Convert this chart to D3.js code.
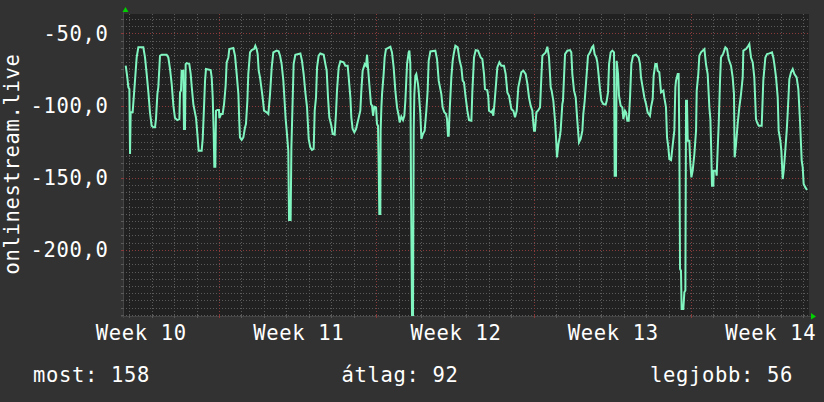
<!DOCTYPE html>
<html><head><meta charset="utf-8">
<script src="https://cdn.jsdelivr.net/npm/d3@7"></script>
<style>
html,body{margin:0;padding:0;background:#323232;}
svg{display:block;}
text{font-family:"DejaVu Sans Mono",monospace;fill:#ffffff;letter-spacing:0.66px;}
</style></head><body>
<svg id="chart" width="824" height="402"></svg>
<script>
// ---- data ----
const windowStart = "2024-03-06T17:30:00Z";
const windowHours = 732.5;
const yDomain = [-245.8, -36.6];
const yTickValues = [-50, -100, -150, -200];
const yTitle = "onlinestream.live";
const legendLabels = ["most", "átlag", "legjobb"];
const legendValues = [158, 92, 56];
// [hours since windowStart, value]
const samplesPart1 = [[2.9,-72.4],[4.6,-80.5],[5.7,-87.4],[6.8,-88.6],[7.5,-133.6],[8.2,-104.7],[10.3,-104.7],[12.8,-82.8],[14.6,-66.7],[16.4,-59.7],[21.7,-59.7],[23.5,-66.7],[25.3,-78.2],[27.1,-90.9],[28.8,-104.7],[30.6,-114.0],[32.4,-115.1],[34.2,-115.1],[35.2,-109.4],[36.7,-92.1],[37.7,-87.4],[39.5,-65.5],[41.3,-64.8],[46.6,-64.8],[48.4,-66.7],[50.2,-74.7],[52.0,-85.1],[53.8,-100.1],[55.5,-108.7],[58.0,-110.1],[60.2,-109.4],[60.9,-90.9],[61.9,-89.7],[62.6,-75.9],[64.4,-75.9],[65.1,-116.3],[66.2,-116.3],[66.9,-71.3],[68.0,-70.6],[70.8,-71.3],[72.3,-78.2],[73.3,-86.3],[75.1,-99.0],[78.0,-108.7],[79.4,-119.7],[80.8,-131.3],[84.0,-131.3],[85.1,-123.2],[86.5,-101.3],[87.6,-82.8],[88.6,-74.7],[93.6,-75.4],[94.7,-80.5],[95.8,-94.4],[96.8,-117.4],[97.5,-142.4],[98.6,-142.4],[99.3,-103.6],[100.7,-103.1],[102.5,-103.1],[102.9,-108.7],[104.7,-105.9],[106.4,-105.9],[107.9,-99.0],[109.6,-86.3],[110.7,-70.1],[112.5,-66.7],[113.5,-60.9],[117.8,-60.2],[119.6,-65.5],[121.4,-78.2],[123.2,-92.1],[124.2,-111.7],[124.9,-122.1],[126.7,-123.9],[128.5,-122.1],[130.3,-115.1],[131.3,-112.8],[132.8,-96.7],[133.8,-78.2],[135.6,-63.2],[137.4,-61.6],[139.9,-60.9],[141.3,-58.6],[142.7,-60.9],[143.8,-64.4],[144.9,-75.9],[146.3,-80.5],[147.7,-87.4],[149.1,-94.4],[150.6,-103.6],[153.4,-104.7],[155.2,-105.9],[157.0,-92.1],[158.8,-73.6],[160.5,-63.2],[164.1,-62.0],[166.2,-62.5],[167.7,-65.5],[169.4,-71.3],[171.2,-82.8],[172.3,-94.4],[173.7,-109.4],[174.8,-117.4],[176.5,-131.3],[177.3,-179.3],[179.0,-179.3],[179.8,-129.0]];
const samplesPart2 = [[182.2,-71.3],[184.0,-64.8],[189.4,-63.9],[191.1,-69.0],[192.9,-78.2],[194.7,-90.9],[196.5,-101.3],[198.3,-123.2],[200.0,-129.0],[201.8,-130.8],[203.6,-130.1],[204.7,-103.6],[206.1,-94.4],[207.2,-73.6],[208.9,-65.5],[210.7,-63.9],[214.3,-64.8],[216.1,-71.3],[217.5,-75.9],[218.9,-94.4],[220.3,-108.2],[222.5,-114.0],[223.9,-119.7],[226.0,-120.2],[227.4,-105.9],[228.5,-89.7],[230.3,-73.6],[232.1,-69.4],[235.6,-70.1],[237.4,-72.4],[239.9,-72.4],[241.0,-80.5],[242.8,-94.4],[243.8,-108.2],[245.2,-116.3],[247.0,-118.6],[248.8,-116.3],[250.9,-110.5],[253.4,-103.6],[254.5,-89.7],[255.9,-75.9],[258.1,-71.3],[259.5,-72.4],[260.6,-64.8],[261.6,-73.6],[263.0,-85.1],[264.8,-99.0],[265.9,-100.1],[267.0,-107.1],[268.4,-100.8],[270.2,-101.3],[271.2,-112.8],[272.3,-114.0],[273.0,-140.5],[273.7,-175.1],[274.8,-175.1],[275.1,-117.4],[275.9,-101.3],[276.6,-92.1],[278.3,-78.2],[279.4,-66.7],[280.8,-60.9],[285.5,-59.3],[287.2,-63.2],[289.0,-73.6],[290.8,-89.7],[292.6,-101.3],[294.4,-107.1],[295.4,-111.7],[297.2,-107.7],[299.0,-110.1],[300.4,-107.1],[301.5,-96.7],[303.3,-71.3],[305.0,-63.2],[305.8,-62.0],[306.8,-71.3],[307.5,-152.1],[308.6,-245.5],[309.7,-245.5],[310.4,-117.4],[311.1,-92.1],[312.2,-79.4],[313.2,-78.2],[315.0,-85.1],[315.7,-89.7],[317.5,-105.9],[318.6,-123.2],[320.3,-119.7],[322.1,-117.4],[323.9,-103.6],[325.3,-89.7],[326.4,-69.0],[328.2,-62.5],[333.5,-62.0],[335.3,-67.8],[337.1,-82.8],[339.9,-92.1],[341.3,-101.3],[343.1,-104.7],[344.9,-105.9],[346.0,-109.4],[347.0,-120.9],[347.8,-120.9],[348.8,-103.6],[350.6,-80.5],[352.0,-69.0],[353.1,-64.4],[354.9,-58.6],[357.4,-59.7],[359.5,-69.0],[361.3,-73.6],[362.7,-82.8]];
const samplesPart3 = [[364.1,-84.0],[365.9,-94.4],[367.7,-103.6],[369.5,-110.1],[372.0,-110.5],[373.0,-90.9],[374.8,-66.7],[376.6,-61.6],[379.1,-62.0],[381.9,-66.7],[383.7,-67.8],[385.5,-78.2],[386.5,-88.6],[389.0,-89.3],[390.1,-94.4],[390.8,-103.6],[393.3,-104.7],[394.4,-103.6],[395.4,-107.1],[396.9,-96.7],[398.6,-82.8],[399.7,-73.6],[401.9,-70.1],[404.0,-72.4],[406.8,-72.4],[408.6,-78.2],[410.4,-90.9],[412.2,-93.2],[414.7,-102.4],[416.8,-103.6],[418.6,-108.2],[420.4,-103.6],[422.1,-87.4],[423.9,-81.7],[425.3,-77.0],[427.5,-75.9],[430.0,-78.2],[431.8,-85.1],[433.5,-94.4],[435.3,-100.1],[437.1,-103.6],[438.2,-112.8],[438.9,-117.4],[439.9,-117.4],[441.4,-104.7],[443.1,-103.6],[445.3,-101.3],[446.7,-80.5],[447.8,-65.5],[449.5,-64.4],[451.3,-63.2],[453.1,-59.3],[454.9,-66.7],[456.7,-87.4],[457.7,-89.7],[459.5,-96.7],[461.3,-110.5],[462.4,-122.1],[463.4,-135.9],[464.9,-126.7],[466.3,-122.1],[467.3,-117.4],[469.1,-99.0],[469.8,-96.7],[470.9,-80.5],[472.0,-64.4],[474.5,-62.0],[477.3,-61.6],[478.7,-63.2],[479.8,-78.2],[481.6,-89.7],[483.4,-94.4],[485.1,-110.5],[486.9,-125.5],[488.7,-123.2],[490.5,-117.4],[491.5,-105.9],[493.0,-96.7],[495.1,-78.2],[496.5,-65.5],[498.7,-63.2],[500.8,-59.7],[502.2,-58.6],[503.6,-64.4],[505.4,-66.7],[506.5,-70.1],[508.3,-81.7],[509.3,-88.6],[510.8,-96.7],[512.9,-99.0],[515.4,-99.4],[516.5,-96.7],[517.9,-90.9],[519.0,-71.3],[520.7,-63.2],[522.5,-62.0],[524.3,-63.2],[525.0,-148.6],[526.4,-148.6],[527.1,-69.0],[528.6,-78.2],[529.6,-93.2],[531.4,-100.1],[533.2,-101.3],[534.3,-109.4],[536.0,-103.6],[537.1,-104.7],[538.5,-110.5],[540.0,-110.5],[541.4,-94.4],[542.8,-71.3],[544.6,-65.5]];
const samplesPart4 = [[547.8,-64.8],[550.6,-66.7],[552.1,-71.3],[553.1,-80.5],[554.9,-87.4],[556.7,-94.4],[558.5,-99.0],[560.2,-104.7],[562.7,-107.1],[563.8,-101.3],[565.6,-95.5],[566.6,-79.4],[568.4,-71.3],[569.9,-71.3],[570.9,-75.9],[572.7,-77.0],[574.5,-90.9],[577.0,-89.7],[578.0,-94.4],[579.8,-101.3],[580.9,-122.1],[582.3,-129.0],[583.4,-137.1],[585.2,-137.8],[586.9,-127.8],[588.7,-117.4],[589.8,-87.4],[590.5,-82.8],[592.3,-78.2],[593.3,-78.2],[594.1,-129.0],[594.8,-213.2],[595.8,-214.4],[596.5,-240.9],[598.3,-240.9],[599.4,-229.4],[600.5,-228.2],[601.2,-96.7],[602.2,-96.7],[603.0,-124.4],[604.7,-124.4],[605.8,-140.5],[606.9,-149.8],[608.3,-145.1],[610.1,-133.6],[611.9,-117.4],[612.6,-89.7],[614.3,-78.2],[615.4,-65.5],[617.2,-63.2],[619.0,-62.0],[620.8,-60.9],[622.5,-71.3],[624.3,-78.2],[626.1,-101.3],[627.2,-109.4],[628.2,-133.6],[628.9,-155.5],[630.4,-155.5],[630.7,-145.1],[633.2,-145.1],[633.9,-148.6],[635.0,-130.1],[636.1,-112.8],[637.5,-82.8],[638.5,-66.7],[641.0,-63.9],[643.2,-59.7],[645.0,-60.9],[646.7,-67.8],[649.2,-72.4],[651.0,-80.5],[652.4,-92.1],[653.1,-135.9],[654.6,-126.7],[656.3,-112.8],[658.1,-101.3],[659.9,-92.1],[661.7,-80.5],[662.4,-62.0],[665.2,-60.9],[667.7,-58.6],[668.8,-57.4],[670.6,-66.7],[672.4,-70.1],[674.1,-80.5],[675.9,-109.4],[677.0,-111.7],[678.8,-114.0],[682.0,-114.0],[683.7,-82.8],[685.9,-66.7],[687.7,-64.4],[690.2,-63.9],[693.0,-63.2],[694.4,-66.7],[695.5,-71.3],[697.3,-80.5],[699.1,-94.4],[700.1,-117.4],[701.9,-124.4],[703.0,-131.3],[704.4,-150.9],[705.5,-145.1],[706.9,-133.6],[708.7,-117.4],[709.7,-105.9],[711.5,-81.7],[713.3,-77.0],[715.1,-74.7],[716.9,-78.2],[719.3,-80.5],[721.1,-88.6],[722.9,-110.5],[724.7,-138.2],[725.8,-142.8],[726.8,-154.4],[728.6,-156.7],[730.4,-158.5]];

// ---- layout ----
const W = 824, H = 402;
const plot = {left: 123, right: 809, top: 14, bottom: 316};
const colors = {back: "#323232", canvas: "#212121", minor: "#5a5a5a", major: "#8a3a3a",
  line: "#80f5c0", arrow: "#00d000", axis: "#454545", text: "#ffffff"};

const t0 = new Date(windowStart);
const t1 = new Date(t0.getTime() + windowHours * 3600e3);
const samples = samplesPart1.concat(samplesPart2, samplesPart3, samplesPart4)
  .map(([h, v]) => ({t: new Date(t0.getTime() + h * 3600e3), v}));

const x = d3.scaleUtc().domain([t0, t1]).range([plot.left, plot.right]);
const y = d3.scaleLinear().domain(yDomain).range([plot.bottom, plot.top]);
const px = v => Math.round(v) + 0.5;

const loc = d3.formatLocale({decimal: ",", thousands: " ", grouping: [3], currency: ["", ""], minus: "-"});
const fmtY = loc.format(".1f");
const fmtWeek = d3.utcFormat("Week %V");

const svg = d3.select("#chart");
svg.append("rect").attr("width", W).attr("height", H).attr("fill", colors.back);
svg.append("rect").attr("x", plot.left).attr("y", plot.top)
  .attr("width", plot.right - plot.left).attr("height", plot.bottom - plot.top)
  .attr("fill", colors.canvas);

const grid = svg.append("g").attr("shape-rendering", "crispEdges");
const minorY = d3.range(Math.ceil(yDomain[0] / 5) * 5, yDomain[1], 5);
grid.selectAll("line.hmin").data(minorY.filter(v => v % 50 !== 0)).join("line")
  .attr("x1", plot.left).attr("x2", plot.right)
  .attr("y1", d => px(y(d))).attr("y2", d => px(y(d)))
  .attr("stroke", colors.minor).attr("stroke-dasharray", "1,2");
const days = d3.utcDay.range(t0, t1);
grid.selectAll("line.vmin").data(days.filter(d => d.getUTCDay() !== 1)).join("line")
  .attr("y1", plot.top).attr("y2", plot.bottom)
  .attr("x1", d => px(x(d))).attr("x2", d => px(x(d)))
  .attr("stroke", colors.minor).attr("stroke-dasharray", "1,2");
grid.selectAll("line.hmaj").data(yTickValues).join("line")
  .attr("x1", plot.left).attr("x2", plot.right)
  .attr("y1", d => px(y(d))).attr("y2", d => px(y(d)))
  .attr("stroke", colors.major).attr("stroke-dasharray", "1,2");
const mondays = d3.utcMonday.range(t0, t1);
grid.selectAll("line.vmaj").data(mondays).join("line")
  .attr("y1", plot.top).attr("y2", plot.bottom)
  .attr("x1", d => px(x(d))).attr("x2", d => px(x(d)))
  .attr("stroke", colors.major).attr("stroke-dasharray", "1,2");

// axes lines and ticks
const ax = svg.append("g").attr("shape-rendering", "crispEdges");
ax.append("line").attr("x1", plot.left - 2).attr("x2", plot.right + 3)
  .attr("y1", plot.bottom + 0.5).attr("y2", plot.bottom + 0.5).attr("stroke", colors.axis);
ax.append("line").attr("x1", plot.left + 0.5).attr("x2", plot.left + 0.5)
  .attr("y1", plot.top - 3).attr("y2", plot.bottom + 2).attr("stroke", colors.axis);
ax.selectAll("line.xt").data(days).join("line")
  .attr("x1", d => px(x(d))).attr("x2", d => px(x(d)))
  .attr("y1", plot.bottom - 1).attr("y2", plot.bottom + 2)
  .attr("stroke", d => d.getUTCDay() === 1 ? colors.major : colors.minor);
ax.selectAll("line.yt").data(minorY).join("line")
  .attr("x1", plot.left - 2).attr("x2", plot.left + 1)
  .attr("y1", d => px(y(d))).attr("y2", d => px(y(d)))
  .attr("stroke", d => d % 50 === 0 ? colors.major : colors.minor);

// arrows
svg.append("path").attr("fill", colors.arrow)
  .attr("d", `M${plot.left - 0.5},${plot.top - 2} L${plot.left + 5.5},${plot.top - 2} L${plot.left + 2.5},${plot.top - 7} Z`);
svg.append("path").attr("fill", colors.arrow)
  .attr("d", `M${plot.right + 2},${plot.bottom - 3} L${plot.right + 2},${plot.bottom + 3.5} L${plot.right + 7},${plot.bottom + 0.5} Z`);

// data line
svg.append("clipPath").attr("id", "clip").append("rect")
  .attr("x", plot.left).attr("y", plot.top - 1)
  .attr("width", plot.right - plot.left).attr("height", plot.bottom - plot.top + 1);
const line = d3.line().x(d => x(d.t)).y(d => y(d.v));
svg.append("path").datum(samples)
  .attr("clip-path", "url(#clip)")
  .attr("d", line).attr("fill", "none")
  .attr("stroke", colors.line).attr("stroke-width", 2).attr("stroke-linejoin", "miter");

// y labels
svg.append("g").selectAll("text").data(yTickValues).join("text")
  .attr("x", 108.6).attr("y", d => y(d) + 7.5)
  .attr("text-anchor", "end").attr("font-size", "20.5px")
  .text(d => fmtY(d));

// x labels, centred in each week
svg.append("g").selectAll("text").data(d3.utcMonday.range(d3.utcMonday.floor(t0), t1)).join("text")
  .attr("x", d => x(d3.utcHour.offset(d, 84)) + 1)
  .attr("y", 339.5).attr("text-anchor", "middle").attr("font-size", "20.5px")
  .text(d => fmtWeek(d));

// y title
svg.append("text")
  .attr("transform", "translate(18.5,164) rotate(-90)")
  .attr("text-anchor", "middle").attr("font-size", "20.5px")
  .text(yTitle);

// legend
const legendX = [33, 341.5, 650];
svg.append("g").selectAll("text").data(legendLabels).join("text")
  .attr("x", (d, i) => legendX[i]).attr("y", 382)
  .attr("font-size", "20.5px")
  .text((d, i) => `${d}: ${legendValues[i]}`);
</script>
</body></html>
